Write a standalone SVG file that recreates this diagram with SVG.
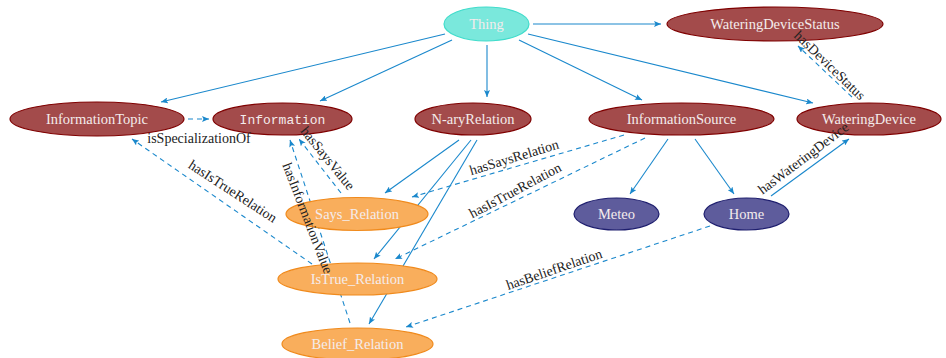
<svg xmlns="http://www.w3.org/2000/svg" width="946" height="358" viewBox="0 0 946 358">
  <defs>
    <marker id="arrow" markerUnits="userSpaceOnUse" markerWidth="8" markerHeight="6" refX="7" refY="3" orient="auto">
      <path d="M0,0 L7,3 L0,6 L1.5,3 z" fill="#1a88cc"/>
    </marker>
    <style>
      .edge { fill: none; stroke: #1a88cc; stroke-width: 1.1; marker-end: url(#arrow); }
      .dash { stroke-dasharray: 5 4; }
      .lbl { font-family: "Liberation Serif", "DejaVu Serif", serif; font-size: 14px; fill: #222; text-anchor: middle; }
      .ntxt { font-family: "Liberation Serif", "DejaVu Serif", serif; font-size: 14.5px; fill: #f4ecec; text-anchor: middle; }
      .mono { font-family: "Liberation Mono", "DejaVu Sans Mono", monospace; font-size: 13px; fill: #f4ecec; text-anchor: middle; }
      .root { fill: #7ae8dc; stroke: #40dccb; stroke-width: 1.2; }
      .cls { fill: #a34b4b; stroke: #7f0000; stroke-width: 1.2; }
      .rel { fill: #f9ae5c; stroke: #f08a1c; stroke-width: 1.2; }
      .ind { fill: #5e5c9c; stroke: #1e1e6e; stroke-width: 1.2; }
    </style>
  </defs>

  <!-- connectors -->
  <g id="edges">
    <!-- subclass links from Thing -->
    <line class="edge" x1="533" y1="24" x2="661" y2="24"/>
    <line class="edge" x1="445" y1="34" x2="161" y2="102"/>
    <line class="edge" x1="452" y1="40" x2="320" y2="101"/>
    <line class="edge" x1="487" y1="45" x2="487" y2="97"/>
    <line class="edge" x1="519" y1="40" x2="642" y2="100"/>
    <line class="edge" x1="528" y1="34" x2="813" y2="103"/>
    <!-- subclass links from N-aryRelation -->
    <line class="edge" x1="459" y1="140" x2="385" y2="193"/>
    <line class="edge" x1="471" y1="140" x2="374" y2="259"/>
    <line class="edge" x1="477" y1="140" x2="369" y2="324"/>
    <!-- individuals of InformationSource -->
    <line class="edge" x1="668" y1="139" x2="630" y2="194"/>
    <line class="edge" x1="695" y1="139" x2="734" y2="194"/>
    <!-- object properties -->
    <line class="edge" x1="771" y1="196" x2="849" y2="139"/>
    <line class="edge dash" x1="188" y1="119" x2="209" y2="119"/>
    <line class="edge dash" x1="852" y1="97" x2="798" y2="46"/>
    <line class="edge dash" x1="624" y1="135" x2="412" y2="197"/>
    <line class="edge dash" x1="645" y1="138" x2="395" y2="259"/>
    <line class="edge dash" x1="710" y1="226" x2="406" y2="327"/>
    <line class="edge dash" x1="341" y1="193" x2="299" y2="139"/>
    <line class="edge dash" x1="350" y1="323" x2="290" y2="140"/>
    <line class="edge dash" x1="312" y1="264" x2="132" y2="139"/>
  </g>

  <!-- nodes -->
  <g id="Thing">
    <ellipse class="root" cx="486.5" cy="24" rx="42.5" ry="17"/>
    <text class="ntxt" x="486.5" y="29">Thing</text>
  </g>
  <g id="WateringDeviceStatus">
    <ellipse class="cls" cx="775" cy="24" rx="108" ry="17"/>
    <text class="ntxt" x="775" y="29">WateringDeviceStatus</text>
  </g>
  <g id="InformationTopic">
    <ellipse class="cls" cx="97" cy="119" rx="87" ry="17"/>
    <text class="ntxt" x="97" y="124">InformationTopic</text>
  </g>
  <g id="Information">
    <ellipse class="cls" cx="282.5" cy="119" rx="69.5" ry="16"/>
    <text class="mono" x="282.5" y="123.5">Information</text>
  </g>
  <g id="N-aryRelation">
    <ellipse class="cls" cx="473" cy="119" rx="58" ry="16"/>
    <text class="ntxt" x="473" y="124">N-aryRelation</text>
  </g>
  <g id="InformationSource">
    <ellipse class="cls" cx="681.5" cy="119" rx="92.5" ry="16"/>
    <text class="ntxt" x="681.5" y="124">InformationSource</text>
  </g>
  <g id="WateringDevice">
    <ellipse class="cls" cx="869" cy="119" rx="72" ry="16"/>
    <text class="ntxt" x="869" y="124">WateringDevice</text>
  </g>
  <g id="Meteo">
    <ellipse class="ind" cx="616.5" cy="214" rx="42.5" ry="16"/>
    <text class="ntxt" x="616.5" y="219">Meteo</text>
  </g>
  <g id="Home">
    <ellipse class="ind" cx="746.5" cy="214" rx="42.5" ry="16"/>
    <text class="ntxt" x="746.5" y="219">Home</text>
  </g>
  <g id="Says_Relation">
    <ellipse class="rel" cx="357" cy="214" rx="71" ry="16.5"/>
    <text class="ntxt" x="357" y="219">Says_Relation</text>
  </g>
  <g id="IsTrue_Relation">
    <ellipse class="rel" cx="357.5" cy="279" rx="79.5" ry="16"/>
    <text class="ntxt" x="357.5" y="284">IsTrue_Relation</text>
  </g>
  <g id="Belief_Relation">
    <ellipse class="rel" cx="357.5" cy="344" rx="75.5" ry="16"/>
    <text class="ntxt" x="357.5" y="349">Belief_Relation</text>
  </g>

  <!-- property labels, drawn over the nodes -->
  <g id="edge-labels">
    <text class="lbl" x="199" y="143">isSpecializationOf</text>
    <text class="lbl" transform="translate(514,157) rotate(-17)" x="0" y="5">hasSaysRelation</text>
    <text class="lbl" transform="translate(515,190) rotate(-28)" x="0" y="5">hasIsTrueRelation</text>
    <text class="lbl" transform="translate(554,269) rotate(-19)" x="0" y="5">hasBeliefRelation</text>
    <text class="lbl" transform="translate(803,158) rotate(-37)" x="0" y="5">hasWateringDevice</text>
    <text class="lbl" transform="translate(830,65) rotate(44)" x="0" y="5">hasDeviceStatus</text>
    <text class="lbl" transform="translate(328,158) rotate(51)" x="0" y="5">hasSaysValue</text>
    <text class="lbl" transform="translate(308,218) rotate(69)" x="0" y="5">hasInformationValue</text>
    <text class="lbl" transform="translate(233,191) rotate(33)" x="0" y="5">hasIsTrueRelation</text>
  </g>
</svg>
